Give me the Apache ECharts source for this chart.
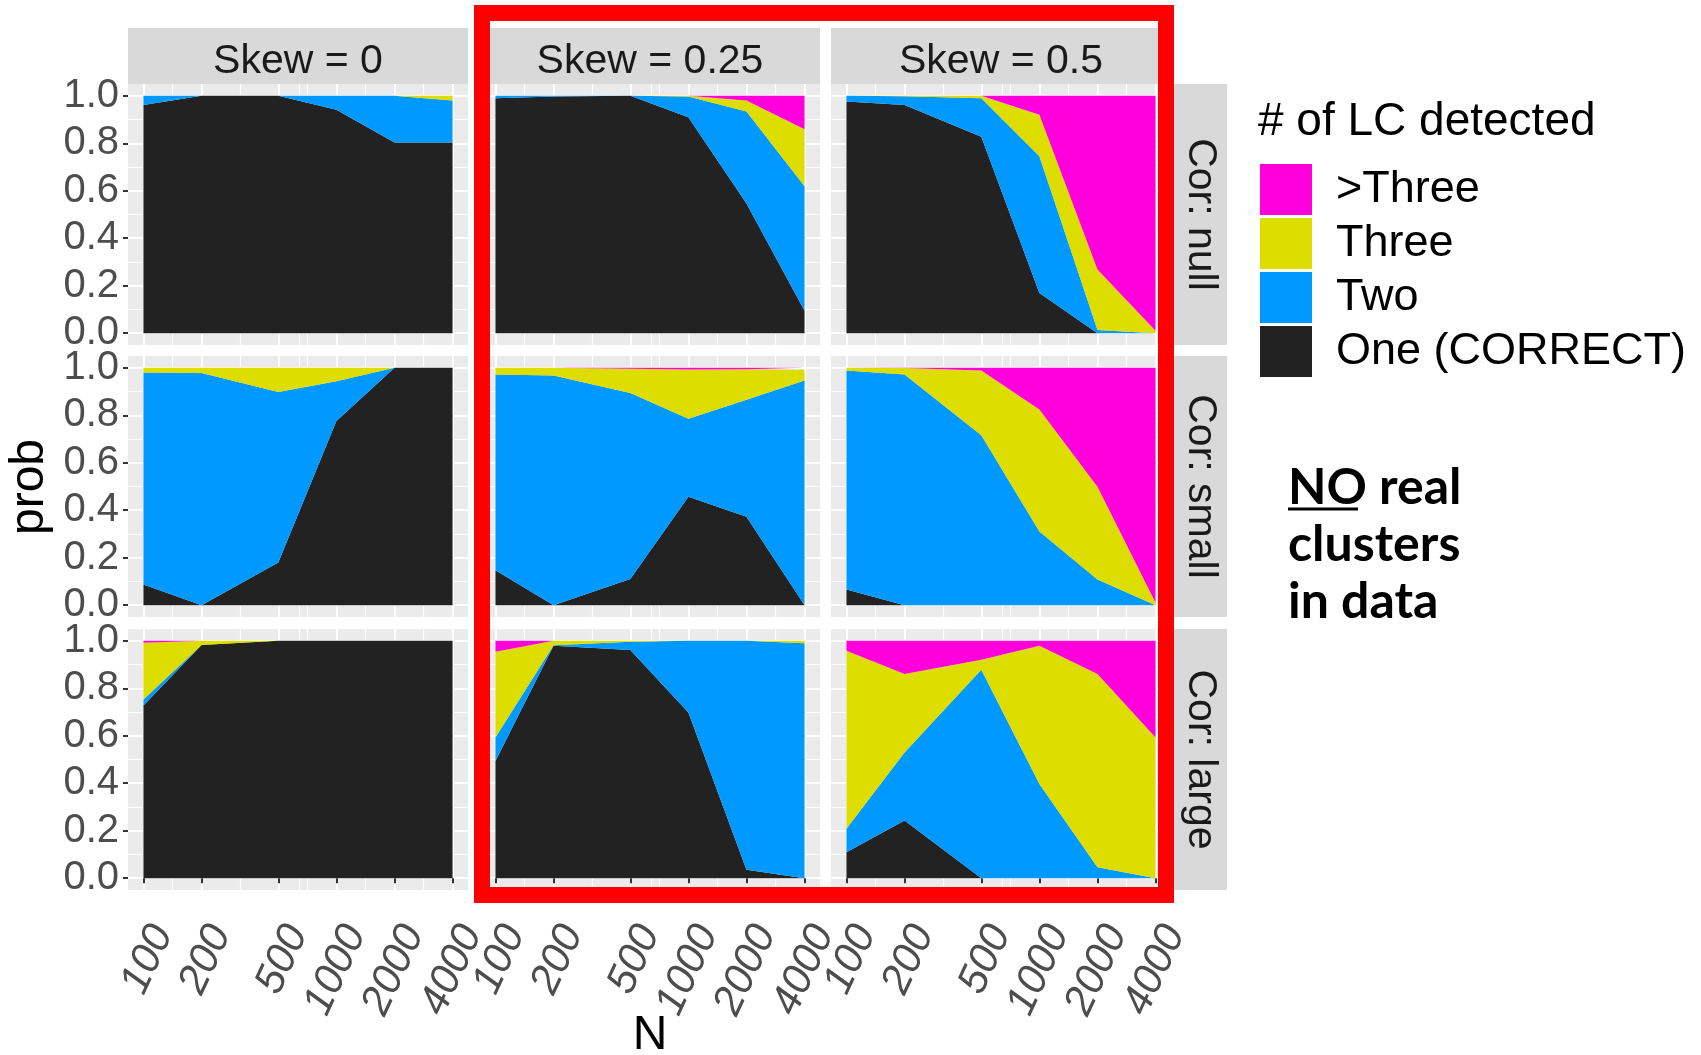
<!DOCTYPE html>
<html>
<head>
<meta charset="utf-8">
<script src="https://cdn.jsdelivr.net/npm/echarts@6/dist/echarts.min.js"></script>
<style>
  html, body { margin: 0; padding: 0; background: #ffffff; }
  #chart { width: 1701px; height: 1055px; }
</style>
</head>
<body>
<div id="chart"></div>
<script>
// ---- data -------------------------------------------------------------
const sampleSizes = [100, 200, 500, 1000, 2000, 4000];
const skewLevels = ['Skew = 0', 'Skew = 0.25', 'Skew = 0.5'];
const corLevels = ['Cor: null', 'Cor: small', 'Cor: large'];
const classNames = ['One (CORRECT)', 'Two', 'Three', '>Three'];
const legendOrder = ['>Three', 'Three', 'Two', 'One (CORRECT)'];
const yTicks = [0, 0.2, 0.4, 0.6, 0.8, 1.0];
const yMinorBreaks = [0.1, 0.3, 0.5, 0.7, 0.9];
const xMinorBreaks = [141, 316, 645, 707, 1414, 2828];

// proportion of runs per number of classes found; one row per skew level
const null_one   = [[0.962, 1.0, 1.0, 0.941, 0.803, 0.803], [0.99, 0.997, 1.0, 0.91, 0.546, 0.094], [0.976, 0.962, 0.828, 0.169, 0, 0]];
const null_two   = [[0.038, 0, 0, 0.059, 0.197, 0.177], [0.01, 0.003, 0, 0.087, 0.388, 0.525], [0.024, 0.036, 0.162, 0.576, 0.013, 0]];
const null_three = [[0, 0, 0, 0, 0, 0.02], [0, 0, 0, 0.003, 0.046, 0.24], [0, 0.002, 0.01, 0.175, 0.255, 0.01]];
const null_more  = [[0, 0, 0, 0, 0, 0], [0, 0, 0, 0, 0.02, 0.141], [0, 0, 0, 0.08, 0.732, 0.99]];

const small_one   = [[0.087, 0, 0.18, 0.776, 1.0, 1.0], [0.147, 0, 0.11, 0.457, 0.373, 0], [0.066, 0, 0, 0, 0, 0]];
const small_two   = [[0.893, 0.978, 0.718, 0.168, 0, 0], [0.825, 0.968, 0.784, 0.329, 0.493, 0.947], [0.923, 0.972, 0.716, 0.31, 0.108, 0]];
const small_three = [[0.02, 0.022, 0.102, 0.056, 0, 0], [0.028, 0.032, 0.102, 0.207, 0.128, 0.045], [0.011, 0.027, 0.273, 0.514, 0.391, 0.01]];
const small_more  = [[0, 0, 0, 0, 0, 0], [0, 0, 0.004, 0.007, 0.006, 0.008], [0, 0.001, 0.011, 0.176, 0.501, 0.99]];

const large_one   = [[0.728, 0.983, 1, 1, 1, 1], [0.494, 0.979, 0.961, 0.698, 0.035, 0], [0.109, 0.243, 0, 0, 0, 0]];
const large_two   = [[0.025, 0, 0, 0, 0, 0], [0.099, 0.003, 0.035, 0.302, 0.965, 0.99], [0.099, 0.287, 0.878, 0.397, 0.046, 0]];
const large_three = [[0.239, 0.017, 0, 0, 0, 0], [0.361, 0.018, 0.004, 0, 0, 0.01], [0.75, 0.33, 0.042, 0.582, 0.814, 0.593]];
const large_more  = [[0.008, 0, 0, 0, 0, 0], [0.046, 0, 0, 0, 0, 0], [0.042, 0.14, 0.08, 0.021, 0.14, 0.407]];

// ---- styling / layout -------------------------------------------------
const FONT = '"Liberation Sans", Arial, Helvetica, sans-serif';
const classColors = ['#222222', '#0099FF', '#DDDD00', '#FF00DD'];
const colLeft = [128, 480, 831];
const rowTop = [84, 356, 629];
const panelW = 340, panelH = 261;
const stripTop = 28, stripW = 55;

const rowsByCor = [
  [null_one, null_two, null_three, null_more],
  [small_one, small_two, small_three, small_more],
  [large_one, large_two, large_three, large_more]
];

// 5% expansion on the log scale, as in the panels
const nFirst = sampleSizes[0], nLast = sampleSizes[sampleSizes.length - 1];
const expand = Math.pow(nLast / nFirst, 0.05);
const xMin = nFirst / expand, xMax = nLast * expand;

const grids = [], xAxes = [], yAxes = [], series = [];
const minorX = [], minorY = [];

for (let r = 0; r < 3; r++) {
  for (let c = 0; c < 3; c++) {
    const p = r * 3 + c;
    grids.push({
      left: colLeft[c], top: rowTop[r], width: panelW, height: panelH,
      show: true, backgroundColor: '#EBEBEB', borderWidth: 0, containLabel: false
    });
    xAxes.push({
      type: 'log', logBase: 10, gridIndex: p, min: xMin, max: xMax,
      axisLine: { show: false },
      axisTick: { show: r === 2, customValues: sampleSizes, length: 5, lineStyle: { color: '#333333', width: 2 } },
      axisLabel: {
        show: r === 2, customValues: sampleSizes, rotate: 65, align: 'right', verticalAlign: 'top',
        margin: 29, fontSize: 42, color: '#4D4D4D', fontFamily: FONT, fontStyle: 'italic',
        formatter: v => String(Math.round(v))
      },
      splitLine: { show: true, lineStyle: { color: '#FFFFFF', width: 2 } }
    });
    minorX.push({
      type: 'log', logBase: 10, gridIndex: p, min: xMin, max: xMax,
      axisLine: { show: false },
      axisTick: { show: false, customValues: xMinorBreaks },
      axisLabel: { show: false, customValues: xMinorBreaks },
      splitLine: { show: true, lineStyle: { color: '#FFFFFF', width: 1.2 } }
    });
    yAxes.push({
      type: 'value', gridIndex: p, min: -0.05, max: 1.05,
      axisLine: { show: false },
      axisTick: { show: c === 0, customValues: yTicks, length: 5, lineStyle: { color: '#333333', width: 2 } },
      axisLabel: {
        show: c === 0, customValues: yTicks, margin: 9, fontSize: 40, color: '#4D4D4D', fontFamily: FONT,
        formatter: v => v.toFixed(1)
      },
      splitLine: { show: true, lineStyle: { color: '#FFFFFF', width: 2 } }
    });
    minorY.push({
      type: 'value', gridIndex: p, min: -0.05, max: 1.05,
      axisLine: { show: false },
      axisTick: { show: false, customValues: yMinorBreaks },
      axisLabel: { show: false, customValues: yMinorBreaks },
      splitLine: { show: true, lineStyle: { color: '#FFFFFF', width: 1.2 } }
    });

    // stacked areas: values go in the first column so that the stack runs along y
    const classes = rowsByCor[r];
    for (let k = 0; k < 4; k++) {
      const values = classes[k][c];
      series.push({
        type: 'line', name: classNames[k], stack: 'panel' + p,
        xAxisIndex: p, yAxisIndex: p,
        encode: { x: 1, y: 0 },
        data: sampleSizes.map((n, i) => [values[i], n]),
        symbol: 'none', showSymbol: false, silent: true,
        lineStyle: { width: 0, color: classColors[k] },
        itemStyle: { color: classColors[k] },
        areaStyle: { color: classColors[k], opacity: 1 },
        z: 3
      });
    }
  }
}

// ---- facet strips, titles and annotation ------------------------------
const graphics = [];
for (let c = 0; c < 3; c++) {
  graphics.push({
    type: 'rect', silent: true,
    shape: { x: colLeft[c], y: stripTop, width: panelW, height: rowTop[0] - stripTop },
    style: { fill: '#D9D9D9' }
  });
  graphics.push({
    type: 'text', silent: true,
    x: colLeft[c] + panelW / 2, y: (stripTop + rowTop[0]) / 2 + 6,
    style: { text: skewLevels[c], fontSize: 41, fontFamily: FONT, fill: '#1A1A1A', textAlign: 'center', textVerticalAlign: 'middle' }
  });
}
const stripX = colLeft[2] + panelW + 1;
for (let r = 0; r < 3; r++) {
  graphics.push({
    type: 'rect', silent: true,
    shape: { x: stripX, y: rowTop[r], width: stripW, height: panelH },
    style: { fill: '#D9D9D9' }
  });
  graphics.push({
    type: 'text', silent: true,
    x: stripX + stripW / 2 + 1, y: rowTop[r] + panelH / 2,
    rotation: -Math.PI / 2,
    style: { text: corLevels[r], fontSize: 41, fontFamily: FONT, fill: '#1A1A1A', textAlign: 'center', textVerticalAlign: 'middle' }
  });
}
// axis titles
graphics.push({
  type: 'text', silent: true, x: 650, y: 1036,
  style: { text: 'N', fontSize: 48, fontFamily: FONT, fill: '#000000', textAlign: 'center', textVerticalAlign: 'middle' }
});
graphics.push({
  type: 'text', silent: true, x: 30, y: 487, rotation: Math.PI / 2,
  style: { text: 'prob', fontSize: 48, fontFamily: FONT, fill: '#000000', textAlign: 'center', textVerticalAlign: 'middle' }
});
// legend title
graphics.push({
  type: 'text', silent: true, x: 1258, y: 122,
  style: { text: '# of LC detected', fontSize: 46, fontFamily: FONT, fill: '#000000', textAlign: 'left', textVerticalAlign: 'middle' }
});
// annotation
const noteFont = 'Lato, "Open Sans", sans-serif';
['NO real', 'clusters', 'in data'].forEach((line, i) => {
  graphics.push({
    type: 'text', silent: true, x: 1288, y: 488 + i * 57,
    style: { text: line, fontSize: 50, fontWeight: 'bold', fontFamily: noteFont, fill: '#000000', textAlign: 'left', textVerticalAlign: 'middle' }
  });
});
graphics.push({
  type: 'line', silent: true,
  shape: { x1: 1288, y1: 509, x2: 1358, y2: 509 },
  style: { stroke: '#000000', lineWidth: 3 }
});
// highlight frame around the skewed columns
graphics.push({
  type: 'rect', silent: true, z: 100,
  shape: { x: 482, y: 13, width: 684, height: 882 },
  style: { fill: null, stroke: '#FF0000', lineWidth: 16 }
});

const chart = echarts.init(document.getElementById('chart'), null, { renderer: 'canvas' });
chart.setOption({
  animation: false,
  backgroundColor: '#FFFFFF',
  grid: grids,
  xAxis: xAxes.concat(minorX),
  yAxis: yAxes.concat(minorY),
  legend: {
    orient: 'vertical', left: 1255, top: 159,
    itemWidth: 52, itemHeight: 51, itemGap: 3,
    icon: 'rect', selectedMode: false,
    data: legendOrder,
    textStyle: { fontSize: 45, lineHeight: 45, color: '#000000', fontFamily: FONT, padding: [6, 0, 0, 19] }
  },
  graphic: { elements: graphics },
  series: series
});
</script>
</body>
</html>
